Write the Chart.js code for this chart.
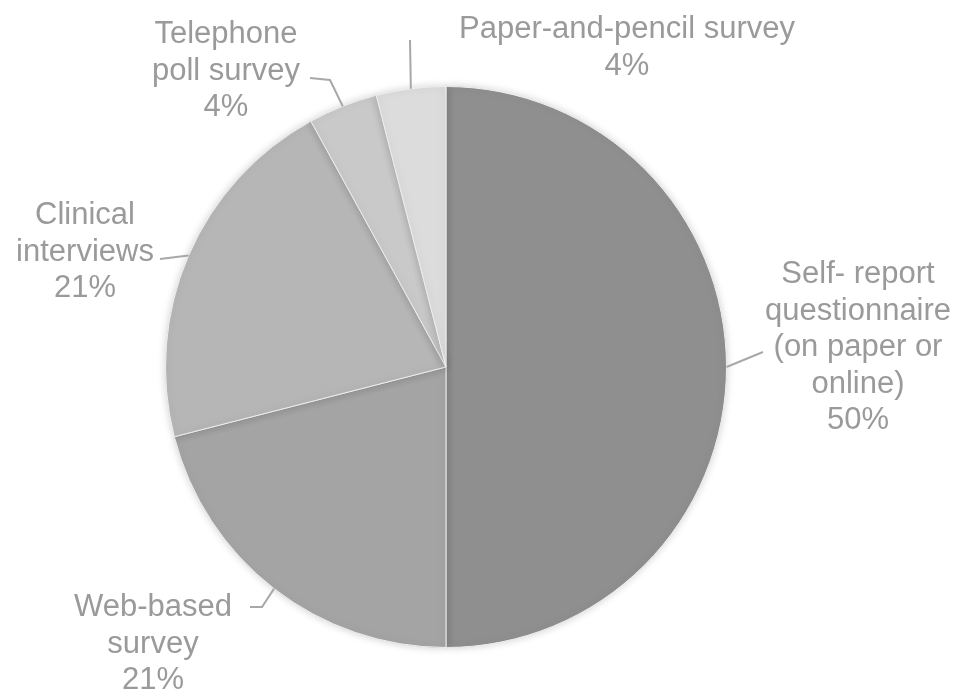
<!DOCTYPE html>
<html lang="en">
<head>
    <meta charset="UTF-8">
    <title>Survey Methods Pie</title>
    <script src="https://cdn.jsdelivr.net/npm/chart.js"></script>
    <style>
        html, body { margin: 0; padding: 0; background: #ffffff; }
        #wrap { width: 959px; height: 692px; position: relative; }
    </style>
</head>
<body>
    <div id="wrap">
        <canvas id="pieChart" width="959" height="692"></canvas>
    </div>

    <script>
        // Data
        const categories = [
            "Self- report questionnaire (on paper or online)",
            "Web-based survey",
            "Clinical interviews",
            "Telephone poll survey",
            "Paper-and-pencil survey"
        ];
        const shares = [50, 21, 21, 4, 4];
        const labelLines = [
            ["Self- report", "questionnaire", "(on paper or", "online)", "50%"],
            ["Web-based", "survey", "21%"],
            ["Clinical", "interviews", "21%"],
            ["Telephone", "poll survey", "4%"],
            ["Paper-and-pencil survey", "4%"]
        ];
        const sliceColors = ["#8f8f8f", "#a4a4a4", "#b6b6b6", "#c9c9c9", "#dcdcdc"];

        // Label layout: text centre x, first baseline y, and leader path (elbow, end)
        const labelLayout = [
            { x: 858, y: 283, line: [[763, 352]] },
            { x: 153, y: 616, line: [[262, 607], [250, 607]] },
            { x: 85,  y: 224, line: [[160, 259]] },
            { x: 226, y: 43,  line: [[330, 80], [310, 78]] },
            { x: 627, y: 38,  line: [[410, 40]] }
        ];
        const lineHeight = 36.5;

        const calloutPlugin = {
            id: "callouts",
            afterDatasetsDraw(chart) {
                const ctx = chart.ctx;
                const meta = chart.getDatasetMeta(0);
                ctx.save();
                meta.data.forEach((arc, i) => {
                    const p = arc.getProps(["x", "y", "startAngle", "endAngle", "outerRadius"], true);
                    const mid = (p.startAngle + p.endAngle) / 2;
                    const sx = p.x + Math.cos(mid) * p.outerRadius;
                    const sy = p.y + Math.sin(mid) * p.outerRadius;
                    const lay = labelLayout[i];

                    ctx.strokeStyle = "#a8a8a8";
                    ctx.lineWidth = 2;
                    ctx.beginPath();
                    ctx.moveTo(sx, sy);
                    lay.line.forEach(pt => ctx.lineTo(pt[0], pt[1]));
                    ctx.stroke();

                    ctx.fillStyle = "#9a9a9a";
                    ctx.font = "31px 'Liberation Sans', Arial, sans-serif";
                    ctx.textAlign = "center";
                    ctx.textBaseline = "alphabetic";
                    labelLines[i].forEach((txt, k) => {
                        ctx.fillText(txt, lay.x, lay.y + k * lineHeight);
                    });
                });
                ctx.restore();
            }
        };

        const shadowPlugin = {
            id: "pieShadow",
            beforeDatasetsDraw(chart) {
                const ctx = chart.ctx;
                ctx.save();
                ctx.shadowColor = "rgba(0,0,0,0.18)";
                ctx.shadowBlur = 8;
            },
            afterDatasetsDraw(chart) {
                chart.ctx.restore();
            }
        };

        new Chart(document.getElementById("pieChart").getContext("2d"), {
            type: "pie",
            data: {
                labels: categories,
                datasets: [{
                    data: shares,
                    backgroundColor: sliceColors,
                    borderColor: "#eeeeee",
                    borderWidth: 1
                }]
            },
            options: {
                responsive: false,
                animation: false,
                layout: { padding: { top: 86, bottom: 44, left: 165, right: 232 } },
                plugins: {
                    legend: { display: false },
                    tooltip: { enabled: false }
                }
            },
            plugins: [shadowPlugin, calloutPlugin]
        });
    </script>
</body>
</html>
